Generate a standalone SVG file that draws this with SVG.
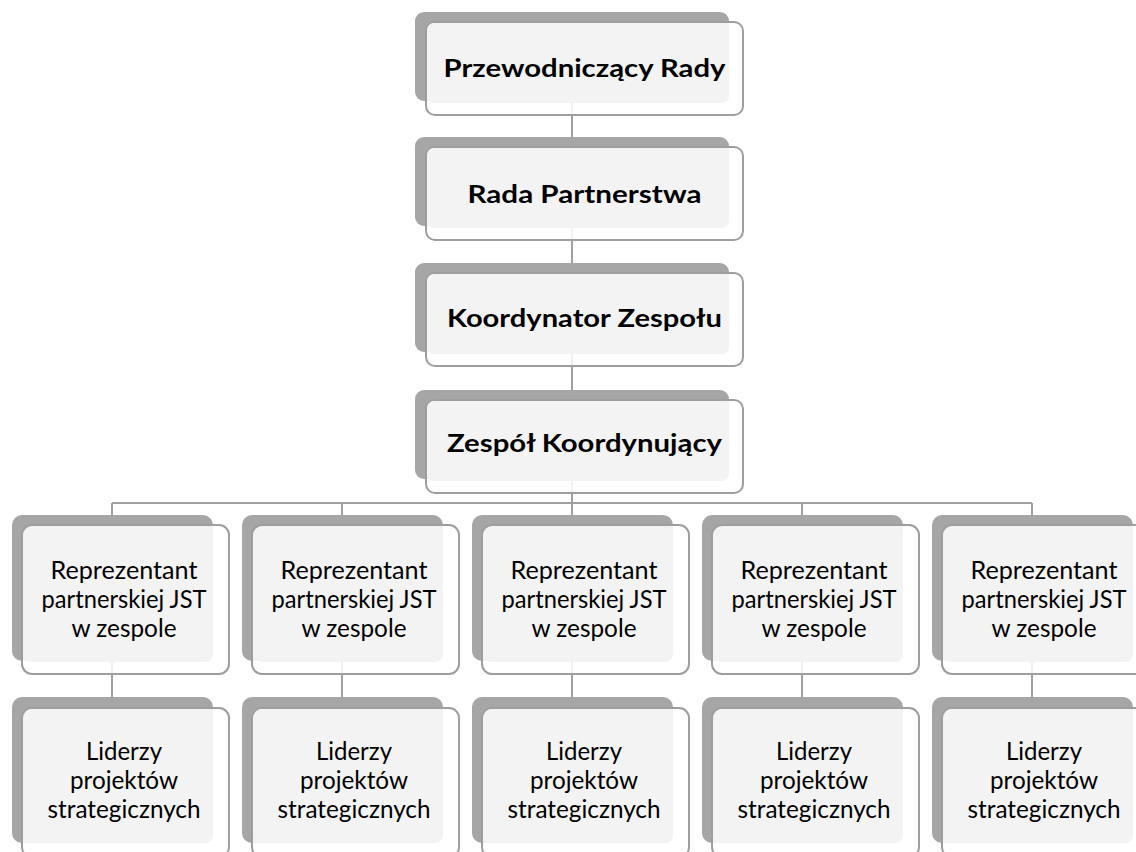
<svg xmlns="http://www.w3.org/2000/svg" width="1136" height="852" viewBox="0 0 1136 852">
<style>
.bk{fill:#a6a6a6}
.ol{fill:#ffffff;fill-opacity:0.85;stroke:#9e9e9e;stroke-width:2}
.lt{fill:#f3f3f3}
.cn{stroke:#a0a0a0;stroke-width:2;fill:none}
.tb{font-family:Lato,"Open Sans","Liberation Sans",sans-serif;font-weight:bold;font-size:25px;fill:#000;text-anchor:middle}
.tr{font-family:Lato,"Open Sans","Liberation Sans",sans-serif;font-size:24.5px;fill:#000;text-anchor:middle}
</style>
<rect width="1136" height="852" fill="#ffffff"/>
<g id="connectors">
<path class="cn" d="M572 60V503M112 503H1032M112 503V780M342 503V780M572 503V780M802 503V780M1032 503V780"/>
</g>
<g id="n1">
<rect class="bk" x="415" y="12" width="314" height="89" rx="9"/>
<rect class="ol" x="426" y="22" width="317" height="93" rx="9"/>
<rect class="lt" x="427" y="23" width="302" height="80" rx="7"/>
<text class="tb" x="584.5" y="77" textLength="282" lengthAdjust="spacingAndGlyphs">Przewodniczący Rady</text>
</g>
<g id="n2">
<rect class="bk" x="415" y="137" width="314" height="89" rx="9"/>
<rect class="ol" x="426" y="147" width="317" height="93" rx="9"/>
<rect class="lt" x="427" y="148" width="302" height="80" rx="7"/>
<text class="tb" x="584.5" y="203" textLength="234" lengthAdjust="spacingAndGlyphs">Rada Partnerstwa</text>
</g>
<g id="n3">
<rect class="bk" x="415" y="263" width="314" height="89" rx="9"/>
<rect class="ol" x="426" y="273" width="317" height="93" rx="9"/>
<rect class="lt" x="427" y="274" width="302" height="80" rx="7"/>
<text class="tb" x="584.5" y="327" textLength="275" lengthAdjust="spacingAndGlyphs">Koordynator Zespołu</text>
</g>
<g id="n4">
<rect class="bk" x="415" y="390" width="314" height="89" rx="9"/>
<rect class="ol" x="426" y="400" width="317" height="93" rx="9"/>
<rect class="lt" x="427" y="401" width="302" height="80" rx="7"/>
<text class="tb" x="584.5" y="452" textLength="275" lengthAdjust="spacingAndGlyphs">Zespół Koordynujący</text>
</g>
<g id="r1">
<rect class="bk" x="12" y="515" width="201" height="146" rx="10"/>
<rect class="ol" x="22" y="525" width="207" height="149" rx="10"/>
<rect class="lt" x="24" y="527" width="189" height="135" rx="8"/>
<text class="tr" x="124" y="579" textLength="147" lengthAdjust="spacingAndGlyphs">Reprezentant</text>
<text class="tr" x="124" y="608" textLength="165" lengthAdjust="spacingAndGlyphs">partnerskiej JST</text>
<text class="tr" x="124" y="637" textLength="105" lengthAdjust="spacingAndGlyphs">w zespole</text>
</g>
<g id="r2">
<rect class="bk" x="242" y="515" width="201" height="146" rx="10"/>
<rect class="ol" x="252" y="525" width="207" height="149" rx="10"/>
<rect class="lt" x="254" y="527" width="189" height="135" rx="8"/>
<text class="tr" x="354" y="579" textLength="147" lengthAdjust="spacingAndGlyphs">Reprezentant</text>
<text class="tr" x="354" y="608" textLength="165" lengthAdjust="spacingAndGlyphs">partnerskiej JST</text>
<text class="tr" x="354" y="637" textLength="105" lengthAdjust="spacingAndGlyphs">w zespole</text>
</g>
<g id="r3">
<rect class="bk" x="472" y="515" width="201" height="146" rx="10"/>
<rect class="ol" x="482" y="525" width="207" height="149" rx="10"/>
<rect class="lt" x="484" y="527" width="189" height="135" rx="8"/>
<text class="tr" x="584" y="579" textLength="147" lengthAdjust="spacingAndGlyphs">Reprezentant</text>
<text class="tr" x="584" y="608" textLength="165" lengthAdjust="spacingAndGlyphs">partnerskiej JST</text>
<text class="tr" x="584" y="637" textLength="105" lengthAdjust="spacingAndGlyphs">w zespole</text>
</g>
<g id="r4">
<rect class="bk" x="702" y="515" width="201" height="146" rx="10"/>
<rect class="ol" x="712" y="525" width="207" height="149" rx="10"/>
<rect class="lt" x="714" y="527" width="189" height="135" rx="8"/>
<text class="tr" x="814" y="579" textLength="147" lengthAdjust="spacingAndGlyphs">Reprezentant</text>
<text class="tr" x="814" y="608" textLength="165" lengthAdjust="spacingAndGlyphs">partnerskiej JST</text>
<text class="tr" x="814" y="637" textLength="105" lengthAdjust="spacingAndGlyphs">w zespole</text>
</g>
<g id="r5">
<rect class="bk" x="932" y="515" width="201" height="146" rx="10"/>
<rect class="ol" x="942" y="525" width="207" height="149" rx="10"/>
<rect class="lt" x="944" y="527" width="189" height="135" rx="8"/>
<text class="tr" x="1044" y="579" textLength="147" lengthAdjust="spacingAndGlyphs">Reprezentant</text>
<text class="tr" x="1044" y="608" textLength="165" lengthAdjust="spacingAndGlyphs">partnerskiej JST</text>
<text class="tr" x="1044" y="637" textLength="105" lengthAdjust="spacingAndGlyphs">w zespole</text>
</g>
<g id="l1">
<rect class="bk" x="12" y="697" width="201" height="146" rx="10"/>
<rect class="ol" x="22" y="708" width="207" height="149" rx="10"/>
<rect class="lt" x="24" y="709" width="189" height="134" rx="8"/>
<text class="tr" x="124" y="760" textLength="76" lengthAdjust="spacingAndGlyphs">Liderzy</text>
<text class="tr" x="124" y="789" textLength="108" lengthAdjust="spacingAndGlyphs">projektów</text>
<text class="tr" x="124" y="818" textLength="153" lengthAdjust="spacingAndGlyphs">strategicznych</text>
</g>
<g id="l2">
<rect class="bk" x="242" y="697" width="201" height="146" rx="10"/>
<rect class="ol" x="252" y="708" width="207" height="149" rx="10"/>
<rect class="lt" x="254" y="709" width="189" height="134" rx="8"/>
<text class="tr" x="354" y="760" textLength="76" lengthAdjust="spacingAndGlyphs">Liderzy</text>
<text class="tr" x="354" y="789" textLength="108" lengthAdjust="spacingAndGlyphs">projektów</text>
<text class="tr" x="354" y="818" textLength="153" lengthAdjust="spacingAndGlyphs">strategicznych</text>
</g>
<g id="l3">
<rect class="bk" x="472" y="697" width="201" height="146" rx="10"/>
<rect class="ol" x="482" y="708" width="207" height="149" rx="10"/>
<rect class="lt" x="484" y="709" width="189" height="134" rx="8"/>
<text class="tr" x="584" y="760" textLength="76" lengthAdjust="spacingAndGlyphs">Liderzy</text>
<text class="tr" x="584" y="789" textLength="108" lengthAdjust="spacingAndGlyphs">projektów</text>
<text class="tr" x="584" y="818" textLength="153" lengthAdjust="spacingAndGlyphs">strategicznych</text>
</g>
<g id="l4">
<rect class="bk" x="702" y="697" width="201" height="146" rx="10"/>
<rect class="ol" x="712" y="708" width="207" height="149" rx="10"/>
<rect class="lt" x="714" y="709" width="189" height="134" rx="8"/>
<text class="tr" x="814" y="760" textLength="76" lengthAdjust="spacingAndGlyphs">Liderzy</text>
<text class="tr" x="814" y="789" textLength="108" lengthAdjust="spacingAndGlyphs">projektów</text>
<text class="tr" x="814" y="818" textLength="153" lengthAdjust="spacingAndGlyphs">strategicznych</text>
</g>
<g id="l5">
<rect class="bk" x="932" y="697" width="201" height="146" rx="10"/>
<rect class="ol" x="942" y="708" width="207" height="149" rx="10"/>
<rect class="lt" x="944" y="709" width="189" height="134" rx="8"/>
<text class="tr" x="1044" y="760" textLength="76" lengthAdjust="spacingAndGlyphs">Liderzy</text>
<text class="tr" x="1044" y="789" textLength="108" lengthAdjust="spacingAndGlyphs">projektów</text>
<text class="tr" x="1044" y="818" textLength="153" lengthAdjust="spacingAndGlyphs">strategicznych</text>
</g>
</svg>
